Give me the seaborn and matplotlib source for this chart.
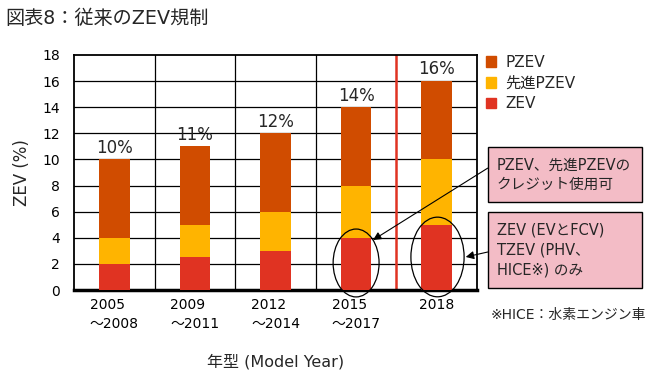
import matplotlib
matplotlib.use("Agg")
import matplotlib.pyplot as plt
import seaborn as sns
import pandas as pd
from matplotlib.patches import Ellipse, Rectangle, Patch

# data
periods = ["2005\n～2008", "2009\n～2011", "2012\n～2014", "2015\n～2017", "2018"]
zev = [2, 2.5, 3, 4, 5]
adv_pzev = [2, 2.5, 3, 4, 5]
pzev = [6, 6, 6, 6, 6]
total_labels = ["10%", "11%", "12%", "14%", "16%"]

c_pzev = "#D04C00"
c_adv = "#FFB400"
c_zev = "#E03322"

df = pd.DataFrame({"period": periods, "ZEV": zev, "先進PZEV": adv_pzev, "PZEV": pzev})
df["lvl_adv"] = df["ZEV"] + df["先進PZEV"]
df["lvl_total"] = df["lvl_adv"] + df["PZEV"]

sns.set_theme(style="white")
plt.rcParams["font.family"] = ["DejaVu Sans", "Noto Sans CJK JP"]

fig = plt.figure(figsize=(6.52, 3.83), dpi=100)
ax = fig.add_axes([0.1135, 0.2428, 0.6181, 0.6136])

# stacked bars: draw totals first, then overlay lower levels
bar_kw = dict(saturation=1, width=0.38, ax=ax, zorder=3, linewidth=0, edgecolor="none")
sns.barplot(data=df, x="period", y="lvl_total", color=c_pzev, **bar_kw)
sns.barplot(data=df, x="period", y="lvl_adv", color=c_adv, **bar_kw)
sns.barplot(data=df, x="period", y="ZEV", color=c_zev, **bar_kw)

ax.set_ylim(0, 18)
ax.set_xlim(-0.5, len(periods) - 0.5)
ax.set_yticks(range(0, 19, 2))
for y in range(2, 18, 2):
    ax.axhline(y, color="black", lw=0.9, zorder=1)
for x in [0.5, 1.5, 2.5]:
    ax.axvline(x, color="black", lw=0.9, zorder=1)
ax.axvline(3.5, color=c_zev, lw=1.8, zorder=1)

for s in ["left", "right", "top"]:
    ax.spines[s].set_visible(True)
    ax.spines[s].set_color("black")
    ax.spines[s].set_linewidth(1.3)
ax.spines["bottom"].set_color("black")
ax.spines["bottom"].set_linewidth(2.5)

ax.tick_params(axis="both", length=0, labelsize=10, colors="black")
ax.tick_params(axis="y", pad=10)
ax.tick_params(axis="x", pad=6)
for lab in ax.get_xticklabels():
    lab.set_multialignment("left")
    lab.set_linespacing(1.45)

ax.set_xlabel("年型 (Model Year)", fontsize=11.5, labelpad=16)
ax.set_ylabel("ZEV (%)", fontsize=12, labelpad=8)

for i, (t, lab) in enumerate(zip(df["lvl_total"], total_labels)):
    ax.text(i, t + 0.2, lab, ha="center", va="bottom", fontsize=12, zorder=4)

# ellipses around ZEV bars
ax.add_patch(Ellipse((3, 2.07), 0.57, 5.2, fill=False, edgecolor="black", lw=0.9, clip_on=False, zorder=5))
ax.add_patch(Ellipse((4.01, 2.53), 0.66, 6.1, fill=False, edgecolor="black", lw=0.9, clip_on=False, zorder=5))

fig.text(0.008, 0.952, "図表8：従来のZEV規制", fontsize=13.8, ha="left", va="center")

handles = [Patch(color=c_pzev, label="PZEV"), Patch(color=c_adv, label="先進PZEV"), Patch(color=c_zev, label="ZEV")]
fig.legend(handles=handles, loc="upper left", bbox_to_anchor=(0.724, 0.893), frameon=False,
           fontsize=11, handlelength=0.7, handleheight=0.7, handletextpad=0.6, labelspacing=0.38)

# annotation boxes
pink = "#F3BCC6"
fig.patches.append(Rectangle((0.748, 0.4726), 0.237, 0.1436, transform=fig.transFigure,
                             facecolor=pink, edgecolor="black", lw=1, zorder=2))
fig.patches.append(Rectangle((0.748, 0.248), 0.237, 0.1985, transform=fig.transFigure,
                             facecolor=pink, edgecolor="black", lw=1, zorder=2))
fig.text(0.762, 0.544, "PZEV、先進PZEVの\nクレジット使用可", fontsize=10.5, va="center", ha="left",
         linespacing=1.4, zorder=3)
fig.text(0.762, 0.347, "ZEV (EVとFCV)\nTZEV (PHV、\nHICE※) のみ", fontsize=10.5, va="center", ha="left",
         linespacing=1.4, zorder=3)

ax.annotate("", xy=(3.21, 3.83), xycoords="data", xytext=(0.748, 0.561), textcoords="figure fraction",
            arrowprops=dict(arrowstyle="-|>", color="black", lw=0.8, shrinkA=0, shrinkB=0),
            annotation_clip=False)
ax.annotate("", xy=(4.36, 2.53), xycoords="data", xytext=(0.748, 0.342), textcoords="figure fraction",
            arrowprops=dict(arrowstyle="-|>", color="black", lw=0.8, shrinkA=0, shrinkB=0),
            annotation_clip=False)

fig.text(0.752, 0.178, "※HICE：水素エンジン車", fontsize=10, ha="left", va="center")

fig.savefig("out.png", dpi=100)
